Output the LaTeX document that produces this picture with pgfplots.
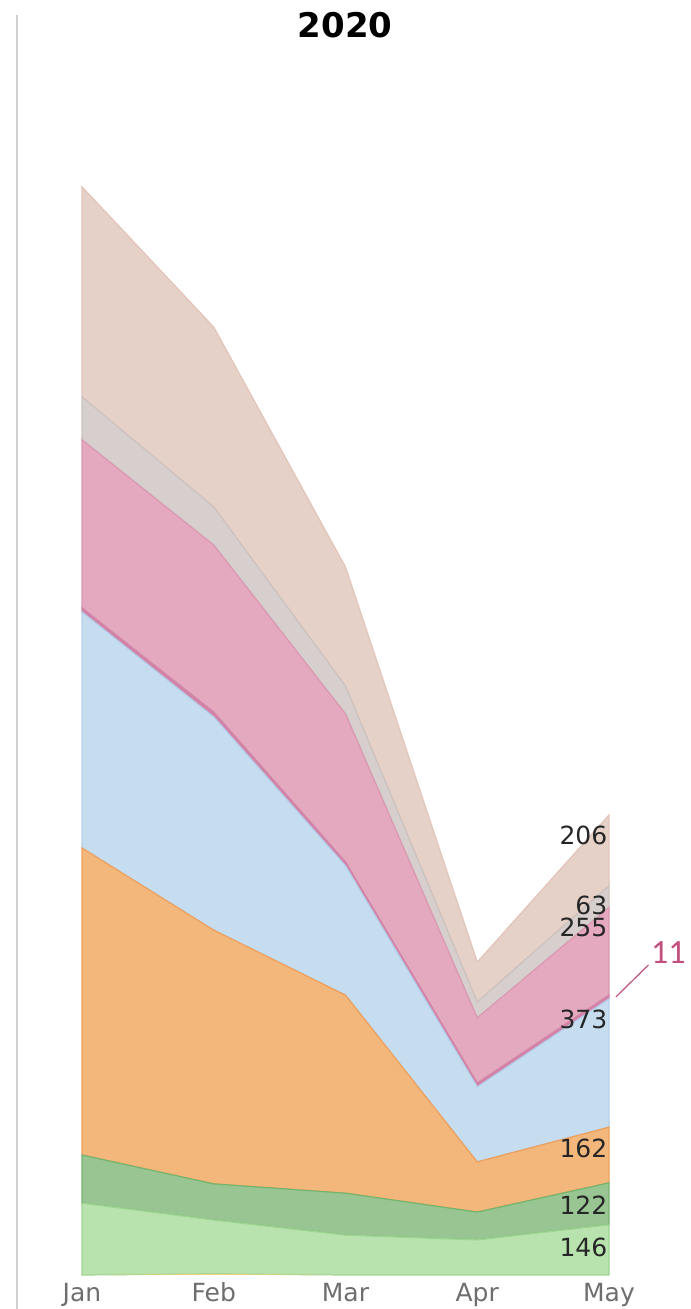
\documentclass[border=0pt]{standalone}
\usepackage{fontspec}
\setmainfont{DejaVu Sans}
\newfontfamily\notefont{Carlito}
\usepackage{pgfplots}
\usepackage{pgfplotstable}
\pgfplotsset{compat=1.18}

\definecolor{lgreen}{HTML}{B8E2AE}
\definecolor{lgreenE}{HTML}{9CD490}
\definecolor{dgreen}{HTML}{98C592}
\definecolor{dgreenE}{HTML}{74B46C}
\definecolor{orng}{HTML}{F4B77B}
\definecolor{orngE}{HTML}{EDA05C}
\definecolor{lblue}{HTML}{C6DDF0}
\definecolor{lblueE}{HTML}{B4D0EA}
\definecolor{mpink}{HTML}{D184A8}
\definecolor{pnk}{HTML}{E4A8BF}
\definecolor{pnkE}{HTML}{DC98B2}
\definecolor{gry}{HTML}{D6CFCD}
\definecolor{gryE}{HTML}{CCC2BF}
\definecolor{bge}{HTML}{E6D1C8}
\definecolor{bgeE}{HTML}{E2C4B8}
\definecolor{ylw}{HTML}{F0D27A}
\definecolor{notecol}{HTML}{C2507F}
\definecolor{tickgrey}{HTML}{6E6E6E}

\newcommand\pxu{0.5pt}
\tikzset{lbl/.style={anchor=east, inner sep=0pt, text=black!85, font=\fontsize{12.5}{14}\selectfont}}

% values per month Jan..May (0..4)
\pgfplotstableread{
x  yel lgreen dgreen orange lblue mpink pink grey beige
0  0   209    140    893    686   12    489  125  611
1  3   157    105    738    620   14    486  111  523
2  0   116    122    576    376   11    431  81   346
3  0   102    81     146    218   11    190  46   116
4  0   146    122    162    373   11    255  63   206
}\monthdata

\begin{document}
\begin{tikzpicture}
\useasboundingbox (0,0) rectangle (690*\pxu,1309*\pxu);
\draw[color=black!18, line width=2*\pxu] (17*\pxu,0) -- (17*\pxu,1294*\pxu);
\node[font=\bfseries\fontsize{17}{20}\selectfont] at (345*\pxu,1284*\pxu) {2020};
\begin{axis}[
  at={(82*\pxu,34*\pxu)}, anchor=south west,
  scale only axis,
  width=527*\pxu, height=1115*\pxu,
  xmin=0, xmax=4, ymin=0, ymax=3243,
  axis line style={draw=none},
  xtick={0,1,2,3,4},
  xticklabels={Jan,Feb,Mar,Apr,May},
  xtick style={draw=none},
  ytick=\empty,
  x tick label style={font=\fontsize{12.5}{14}\selectfont, text=tickgrey,
    text height=0.75em, text depth=0.2em, yshift=-2pt},
  clip=false,
  stack plots=y,
  every axis plot/.append style={line width=0.6pt},
  after end axis/.code={
    \node[lbl] at (axis cs:3.99,1280) {206};
    \node[lbl] at (axis cs:3.99,1076) {63};
    \node[lbl] at (axis cs:3.99,1012) {255};
    \node[lbl] at (axis cs:3.99,742) {373};
    \node[lbl] at (axis cs:3.99,369) {162};
    \node[lbl] at (axis cs:3.99,204) {122};
    \node[lbl] at (axis cs:3.99,81) {146};
    \draw[notecol, line width=0.6pt] (axis cs:4.053,809) -- (axis cs:4.30,902);
    \node[text=notecol, font=\notefont\fontsize{17}{19}\selectfont, anchor=center]
      at (axis cs:4.45,937) {11};
  },
]
  \addplot[draw=none, fill=ylw] table[x=x,y=yel] {\monthdata} \closedcycle;
  \addplot[draw=lgreenE, fill=lgreen] table[x=x,y=lgreen] {\monthdata} \closedcycle;
  \addplot[draw=dgreenE, fill=dgreen] table[x=x,y=dgreen] {\monthdata} \closedcycle;
  \addplot[draw=orngE, fill=orng] table[x=x,y=orange] {\monthdata} \closedcycle;
  \addplot[draw=lblueE, fill=lblue] table[x=x,y=lblue] {\monthdata} \closedcycle;
  \addplot[draw=mpink, fill=mpink] table[x=x,y=mpink] {\monthdata} \closedcycle;
  \addplot[draw=pnkE, fill=pnk] table[x=x,y=pink] {\monthdata} \closedcycle;
  \addplot[draw=gryE, fill=gry] table[x=x,y=grey] {\monthdata} \closedcycle;
  \addplot[draw=bgeE, fill=bge] table[x=x,y=beige] {\monthdata} \closedcycle;
\end{axis}
\end{tikzpicture}
\end{document}
